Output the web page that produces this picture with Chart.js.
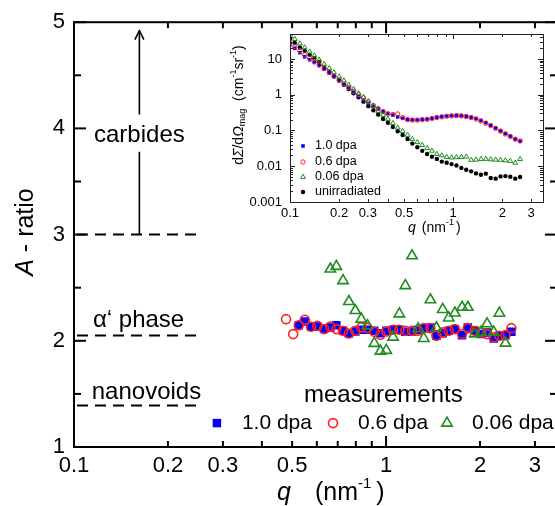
<!DOCTYPE html>
<html>
<head>
<meta charset="utf-8">
<script src="https://cdn.jsdelivr.net/npm/chart.js@4.4.0/dist/chart.umd.min.js"></script>
<style>
  html, body { margin: 0; padding: 0; background: #fff; overflow: hidden; }
  #wrap { position: relative; width: 555px; height: 506px; overflow: hidden; background: #fff; }
  #main { position: absolute; left: 0; top: 0; }
  #inset { position: absolute; left: 200px; top: 0; }
</style>
</head>
<body>
<div id="wrap">
  <canvas id="main" width="575" height="506"></canvas>
  <canvas id="inset" width="355" height="250"></canvas>
</div>
<script>
// ---- main plot: A-ratio vs q ----
const MAIN_X_TICKS = [0.1, 0.2, 0.3, 0.5, 1, 2, 3];
const MAIN_Y_TICKS = [1, 2, 3, 4, 5];

const MAIN_Q = [0.478, 0.504, 0.525, 0.549, 0.575, 0.602, 0.633, 0.663, 0.693, 0.728,
                0.760, 0.797, 0.833, 0.872, 0.917, 0.959, 1.002, 1.053, 1.103, 1.153,
                1.211, 1.267, 1.321, 1.387, 1.450, 1.519, 1.588, 1.661, 1.752, 1.828,
                1.924, 2.016, 2.107, 2.214, 2.308, 2.413, 2.521];
const A_06 = [2.204, 2.063, 2.147, 2.198, 2.132, 2.142, 2.110, 2.135, 2.110, 2.095,
              2.069, 2.095, 2.126, 2.120, 2.085, 2.057, 2.088, 2.104, 2.104, 2.095,
              2.095, 2.095, 2.119, 2.119, 2.048, 2.079, 2.095, 2.110, 2.063, 2.119,
              2.095, 2.079, 2.063, 2.032, 2.048, 2.053, 2.119];
const Q_10 = MAIN_Q.slice(2);
const A_10 = [2.147, 2.182, 2.132, 2.135, 2.110, 2.126, 2.147, 2.095, 2.069, 2.088,
              2.104, 2.104, 2.095, 2.072, 2.095, 2.104, 2.104, 2.085, 2.088, 2.104,
              2.119, 2.126, 2.048, 2.072, 2.095, 2.110, 2.053, 2.126, 2.095, 2.063,
              2.079, 2.022, 2.048, 2.053, 2.085];
const Q_006 = MAIN_Q.slice(7, 36);
const A_006 = [2.676, 2.701, 2.567, 2.370, 2.285, 2.204, 2.142, 1.976, 1.903, 1.910,
               2.035, 2.254, 2.520, 2.801, 2.113, 2.022, 2.386, 2.123, 2.295, 2.215,
               2.262, 2.316, 2.316, 2.065, 2.082, 2.160, 2.082, 2.260, 1.978];

// theoretical A-ratios (dashed lines) and their names
const REF_LEVELS = [3, 2.05, 1.39];
const REF_NAMES = ['carbides', 'α‘ phase', 'nanovoids'];

// ---- inset: dΣ/dΩ_mag vs q ----
const INSET_X_TICKS = [0.1, 0.2, 0.3, 0.5, 1, 2, 3];
const INSET_Y_TICKS = [0.001, 0.01, 0.1, 1, 10];

const INSET_Q = [0.100, 0.107, 0.115, 0.123, 0.132, 0.141, 0.151, 0.162, 0.174, 0.186,
                 0.200, 0.214, 0.229, 0.245, 0.263, 0.282, 0.302, 0.324, 0.347, 0.372,
                 0.398, 0.427, 0.457, 0.490, 0.525, 0.562, 0.603, 0.646, 0.692, 0.741,
                 0.794, 0.851, 0.912, 0.977, 1.047, 1.122, 1.202, 1.288, 1.380, 1.479,
                 1.585, 1.698, 1.820, 1.950, 2.089, 2.239, 2.399, 2.570];
const I_10 = [25, 20, 15, 11.5, 9.5, 8.0, 6.6, 5.2, 4.0, 3.2,
              2.5, 1.9, 1.5, 1.15, 0.9, 0.72, 0.58, 0.48, 0.40, 0.34,
              0.30, 0.27, 0.24, 0.22, 0.205, 0.20, 0.20, 0.205, 0.21, 0.22,
              0.235, 0.245, 0.255, 0.262, 0.265, 0.26, 0.25, 0.235, 0.215, 0.19,
              0.165, 0.14, 0.118, 0.098, 0.082, 0.070, 0.058, 0.050];
const I_06 = [28, 22, 17, 13, 10.5, 8.4, 6.8, 5.4, 4.2, 3.3,
              2.6, 2.0, 1.6, 1.25, 1.0, 0.82, 0.64, 0.50, 0.41, 0.34,
              0.29, 0.28, 0.29, 0.23, 0.20, 0.195, 0.195, 0.20, 0.205, 0.215,
              0.23, 0.24, 0.25, 0.255, 0.26, 0.255, 0.245, 0.23, 0.21, 0.185,
              0.16, 0.137, 0.115, 0.096, 0.080, 0.068, 0.057, 0.051];
const I_006 = [48, 36, 27, 21, 16, 12.5, 9.5, 7.2, 5.5, 4.2,
               3.2, 2.5, 1.9, 1.45, 1.1, 0.85, 0.65, 0.48, 0.35, 0.27,
               0.21, 0.16, 0.12, 0.095, 0.075, 0.057, 0.047, 0.039, 0.032, 0.027,
               0.022, 0.020, 0.018, 0.0175, 0.0178, 0.0180, 0.0185, 0.0150, 0.0152, 0.0158,
               0.0160, 0.0155, 0.0152, 0.0150, 0.0145, 0.0140, 0.0125, 0.0158];
const I_UNIRR = [37, 28, 21, 17, 13, 10.5, 8.2, 6.0, 4.5, 3.4,
                 2.5, 1.9, 1.45, 1.1, 0.85, 0.64, 0.48, 0.37, 0.28, 0.21,
                 0.165, 0.125, 0.095, 0.075, 0.058, 0.043, 0.034, 0.027, 0.022, 0.0185,
                 0.016, 0.0135, 0.0125, 0.0115, 0.0105, 0.0090, 0.0080, 0.0072, 0.0063, 0.0058,
                 0.0062, 0.0047, 0.0045, 0.0052, 0.0053, 0.0051, 0.0045, 0.0050];

const FONT = '"Liberation Sans", Arial, sans-serif';
const BLUE = '#0000ff';
const RED = '#ff2020';
const GREEN = '#1e8c1e';
const NONE = 'rgba(0,0,0,0)';

const pts = (xs, ys) => xs.map((x, i) => ({ x, y: ys[i] }));
const fixedTicks = values => scale => { scale.ticks = values.map(v => ({ value: v })); };

function line(ctx, x1, y1, x2, y2) {
    ctx.beginPath();
    ctx.moveTo(x1, y1);
    ctx.lineTo(x2, y2);
    ctx.stroke();
}

function marker(ctx, ds, radius, x, y) {
    ctx.save();
    ctx.fillStyle = ds.backgroundColor;
    ctx.strokeStyle = ds.borderColor;
    ctx.lineWidth = ds.borderWidth;
    Chart.helpers.drawPoint(ctx, { pointStyle: ds.pointStyle, radius, rotation: 0, borderWidth: ds.borderWidth }, x, y);
    ctx.restore();
}

// draws a row of text pieces: [text, font, dy, gap after]
function pieces(ctx, parts, x, y) {
    parts.forEach(([text, font, dy, gap]) => {
        ctx.font = font;
        ctx.fillText(text, x, y + (dy || 0));
        x += ctx.measureText(text).width + (gap || 0);
    });
}
function piecesWidth(ctx, parts) {
    return parts.reduce((w, [text, font, dy, gap]) => {
        ctx.font = font;
        return w + ctx.measureText(text).width + (gap || 0);
    }, 0);
}

const mainDecor = {
    id: 'mainDecor',
    afterDraw(chart) {
        const { ctx, chartArea: a } = chart;
        const x = chart.scales.x, y = chart.scales.y;
        ctx.save();
        ctx.strokeStyle = '#000';
        ctx.fillStyle = '#000';
        ctx.lineWidth = 2;
        ctx.strokeRect(a.left, a.top, a.right - a.left, a.bottom - a.top);

        // inward ticks
        [0.1, 1].forEach(dec => {
            for (let m = 1; m <= 9; m++) {
                const v = m * dec;
                if (v > x.max) break;
                const px = x.getPixelForValue(v);
                const len = m === 1 ? 11 : 6;
                line(ctx, px, a.bottom, px, a.bottom - len);
                line(ctx, px, a.top, px, a.top + len);
            }
        });
        for (let v = 1; v <= 5; v += 0.5) {
            const py = y.getPixelForValue(v);
            const len = Number.isInteger(v) ? 12 : 7;
            line(ctx, a.left, py, a.left + len, py);
            line(ctx, a.right, py, a.right - len, py);
        }

        // dashed reference levels
        const x0 = x.getPixelForValue(0.1) + 3;
        const x1 = x.getPixelForValue(0.257);
        ctx.setLineDash([11, 7]);
        REF_LEVELS.forEach(level => line(ctx, x0, y.getPixelForValue(level), x1, y.getPixelForValue(level)));
        ctx.setLineDash([]);

        // carbides arrow (A > 3)
        const ax = x.getPixelForValue(0.162);
        ctx.lineWidth = 1.6;
        line(ctx, ax, y.getPixelForValue(REF_LEVELS[0]), ax, y.getPixelForValue(3.78));
        line(ctx, ax, y.getPixelForValue(4.13), ax, y.getPixelForValue(4.92));
        const ty = y.getPixelForValue(4.92);
        ctx.beginPath();
        ctx.moveTo(ax - 4.5, ty + 9);
        ctx.lineTo(ax, ty);
        ctx.lineTo(ax + 4.5, ty + 9);
        ctx.stroke();

        ctx.font = `24px ${FONT}`;
        ctx.textBaseline = 'middle';
        ctx.textAlign = 'center';
        ctx.fillText(REF_NAMES[0], ax, y.getPixelForValue(3.93));
        ctx.fillText('measurements', x.getPixelForValue(0.98), y.getPixelForValue(1.49));
        ctx.textAlign = 'left';
        ctx.fillText(REF_NAMES[1], x.getPixelForValue(0.115), y.getPixelForValue(2.19));
        ctx.fillText(REF_NAMES[2], x.getPixelForValue(0.114), y.getPixelForValue(1.51));

        // legend row
        const legendQ = [0.287, 0.676, 1.568];
        const ly = y.getPixelForValue(1.225);
        chart.data.datasets.forEach((ds, i) => {
            const mx = x.getPixelForValue(legendQ[i]);
            marker(ctx, ds, ds.pointRadius, mx, ly);
            ctx.fillStyle = '#000';
            ctx.font = `21px ${FONT}`;
            ctx.fillText(ds.label, mx + 25, ly);
        });

        // axis titles
        ctx.fillStyle = '#000';
        ctx.textAlign = 'left';
        pieces(ctx, [
            ['q', `italic 25px ${FONT}`, 0, 24],
            ['(nm', `25px ${FONT}`, 0, 0],
            ['-1', `15px ${FONT}`, -9, 5],
            [')', `25px ${FONT}`, 0, 0]
        ], 277, 493);

        ctx.save();
        ctx.translate(26, 232);
        ctx.rotate(-Math.PI / 2);
        const yParts = [
            ['A', `italic 25px ${FONT}`, 0, 0],
            [' - ratio', `25px ${FONT}`, 0, 0]
        ];
        pieces(ctx, yParts, -piecesWidth(ctx, yParts) / 2, 0);
        ctx.restore();
        ctx.restore();
    }
};

new Chart(document.getElementById('main'), {
    type: 'scatter',
    data: {
        datasets: [
            { label: '1.0 dpa', data: pts(Q_10, A_10), pointStyle: 'rect', pointRadius: 6,
              backgroundColor: BLUE, borderColor: BLUE, borderWidth: 0, order: 3 },
            { label: '0.6 dpa', data: pts(MAIN_Q, A_06), pointStyle: 'circle', pointRadius: 4.5,
              backgroundColor: NONE, borderColor: RED, borderWidth: 1.6, order: 2 },
            { label: '0.06 dpa', data: pts(Q_006, A_006), pointStyle: 'triangle', pointRadius: 6,
              backgroundColor: NONE, borderColor: GREEN, borderWidth: 1.6, order: 1 }
        ]
    },
    options: {
        responsive: false,
        animation: false,
        layout: { padding: { top: 20, right: 18, left: 0, bottom: 0 } },
        plugins: { legend: { display: false }, tooltip: { enabled: false } },
        scales: {
            x: {
                type: 'logarithmic', min: 0.1, max: 3.53,
                afterBuildTicks: fixedTicks(MAIN_X_TICKS),
                afterFit: s => { s.height = 59; },
                grid: { display: false, drawTicks: false },
                border: { display: false },
                ticks: { font: { family: FONT, size: 22 }, color: '#000', padding: 6,
                         maxRotation: 0, autoSkip: false, callback: v => String(v) }
            },
            y: {
                min: 1, max: 5,
                afterBuildTicks: fixedTicks(MAIN_Y_TICKS),
                afterFit: s => { s.width = 74; },
                grid: { display: false, drawTicks: false },
                border: { display: false },
                ticks: { font: { family: FONT, size: 22 }, color: '#000', padding: 9,
                         callback: v => String(v) }
            }
        }
    },
    plugins: [mainDecor]
});

const insetDecor = {
    id: 'insetDecor',
    afterDraw(chart) {
        const { ctx, chartArea: a } = chart;
        const x = chart.scales.x, y = chart.scales.y;
        ctx.save();
        ctx.strokeStyle = '#222';
        ctx.fillStyle = '#000';
        ctx.lineWidth = 1;
        ctx.strokeRect(a.left + 0.5, a.top + 0.5, a.right - a.left, a.bottom - a.top);

        [0.1, 1].forEach(dec => {
            for (let m = 1; m <= 9; m++) {
                const v = m * dec;
                if (v > x.max) break;
                const px = Math.round(x.getPixelForValue(v)) + 0.5;
                const len = m === 1 ? 5 : 3;
                line(ctx, px, a.bottom, px, a.bottom - len);
                line(ctx, px, a.top, px, a.top + len);
            }
        });
        INSET_Y_TICKS.forEach(dec => {
            for (let m = 1; m <= 9; m++) {
                const v = m * dec;
                if (v > y.max) break;
                const py = Math.round(y.getPixelForValue(v)) + 0.5;
                const len = m === 1 ? 5 : 3;
                line(ctx, a.left, py, a.left + len, py);
                line(ctx, a.right, py, a.right - len, py);
            }
        });

        // legend
        ctx.textBaseline = 'middle';
        ctx.textAlign = 'left';
        const rows = [146, 162, 177, 192];
        chart.data.datasets.forEach((ds, i) => {
            marker(ctx, ds, ds.pointRadius, 103, rows[i]);
            ctx.fillStyle = '#000';
            ctx.font = `12.5px ${FONT}`;
            ctx.fillText(ds.label, 115, rows[i]);
        });

        // axis titles
        pieces(ctx, [
            ['q', `italic 14px ${FONT}`, 0, 6],
            ['(nm', `14px ${FONT}`, 0, 0],
            ['-1', `9px ${FONT}`, -5, 2],
            [')', `14px ${FONT}`, 0, 0]
        ], 208, 228);

        ctx.save();
        ctx.translate(39, 105);
        ctx.rotate(-Math.PI / 2);
        const yParts = [
            ['d', `14px ${FONT}`, 0, 0],
            ['Σ', `italic 14px ${FONT}`, 0, 0],
            ['/d', `14px ${FONT}`, 0, 0],
            ['Ω', `italic 14px ${FONT}`, 0, 0],
            ['mag', `9px ${FONT}`, 4, 0],
            ['  (cm', `14px ${FONT}`, 0, 0],
            ['-1', `9px ${FONT}`, -5, 0],
            ['sr', `14px ${FONT}`, 0, 0],
            ['-1', `9px ${FONT}`, -5, 0],
            [')', `14px ${FONT}`, 0, 0]
        ];
        pieces(ctx, yParts, -piecesWidth(ctx, yParts) / 2, 0);
        ctx.restore();
        ctx.restore();
    }
};

new Chart(document.getElementById('inset'), {
    type: 'scatter',
    data: {
        datasets: [
            { label: '1.0 dpa', data: pts(INSET_Q, I_10), pointStyle: 'rect', pointRadius: 2.5,
              backgroundColor: BLUE, borderColor: BLUE, borderWidth: 0, order: 3 },
            { label: '0.6 dpa', data: pts(INSET_Q, I_06), pointStyle: 'circle', pointRadius: 2.2,
              backgroundColor: NONE, borderColor: RED, borderWidth: 1, order: 2 },
            { label: '0.06 dpa', data: pts(INSET_Q, I_006), pointStyle: 'triangle', pointRadius: 2.8,
              backgroundColor: NONE, borderColor: GREEN, borderWidth: 1, order: 1 },
            { label: 'unirradiated', data: pts(INSET_Q, I_UNIRR), pointStyle: 'circle', pointRadius: 2.2,
              backgroundColor: '#000', borderColor: '#000', borderWidth: 0, order: 4 }
        ]
    },
    options: {
        responsive: false,
        animation: false,
        layout: { padding: { top: 34, right: 12, left: 0, bottom: 0 } },
        plugins: { legend: { display: false }, tooltip: { enabled: false } },
        scales: {
            x: {
                type: 'logarithmic', min: 0.1, max: 3.55,
                afterBuildTicks: fixedTicks(INSET_X_TICKS),
                afterFit: s => { s.height = 48; },
                grid: { display: false, drawTicks: false },
                border: { display: false },
                ticks: { font: { family: FONT, size: 13 }, color: '#000', padding: 4,
                         maxRotation: 0, autoSkip: false, callback: v => String(v) }
            },
            y: {
                type: 'logarithmic', min: 0.001, max: 50,
                afterBuildTicks: fixedTicks(INSET_Y_TICKS),
                afterFit: s => { s.width = 90; },
                grid: { display: false, drawTicks: false },
                border: { display: false },
                ticks: { font: { family: FONT, size: 13 }, color: '#000', padding: 8,
                         autoSkip: false, callback: v => String(v) }
            }
        }
    },
    plugins: [insetDecor]
});
</script>
</body>
</html>
